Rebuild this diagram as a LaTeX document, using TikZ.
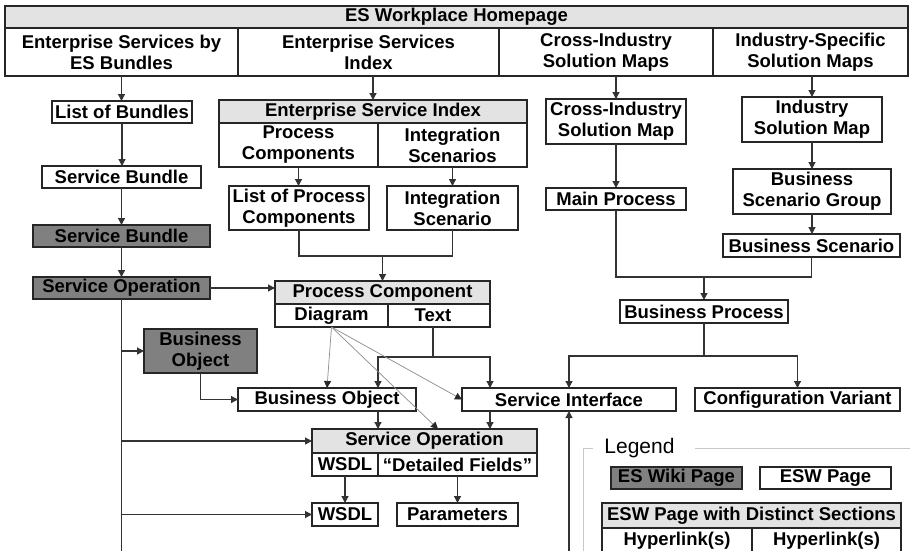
\documentclass[tikz,border=0pt]{standalone}
\usepackage{fontspec}
\setmainfont{Liberation Sans}
\usetikzlibrary{arrows.meta,calc}
\definecolor{dgray}{HTML}{808080}
\definecolor{lgray}{HTML}{E3E3E3}
\definecolor{edge}{HTML}{262626}
\definecolor{wirec}{HTML}{333333}
\definecolor{faint}{HTML}{8C8C8C}
\definecolor{framec}{HTML}{C8C8C8}
\newcommand\mybox[7]{\node[#1, minimum width={(#5-#3)*1pt}, minimum height={(#6-#4)*1pt}] (#2) at ({(#3+#5)/2},{(#4+#6)/2}) {#7};}
\begin{document}
\begin{tikzpicture}[x=1pt,y=-1pt,
  box/.style={draw=edge, line width=1.1pt, fill=white, inner sep=0pt, outer sep=0pt, align=center, font=\bfseries\fontsize{18.5}{21}\selectfont},
  wiki/.style={box, fill=dgray},
  shade/.style={box, fill=lgray},
  wire/.style={draw=wirec, line width=1.2pt},
  conn/.style={wire, -{Triangle[length=7pt,width=7pt]}},
  faintconn/.style={draw=faint, line width=0.7pt, -{Triangle[length=7pt,width=7pt,color=black!85]}},
]
\useasboundingbox (0,0) rectangle (910,550);
\clip (0,0) rectangle (910,550);
\fill[white] (0,0) rectangle (910,550);

% header
\mybox{shade}{top}{5}{6}{908}{28}{ES Workplace Homepage}
\mybox{box}{hA}{5}{28}{238}{76}{Enterprise Services by\\ES Bundles}
\mybox{box}{hB}{238}{28}{499}{76}{Enterprise Services\\Index}
\mybox{box}{hC}{499}{28}{713}{76}{Cross-Industry\\Solution Maps}
\mybox{box}{hD}{713}{28}{908}{76}{Industry-Specific\\Solution Maps}

% left column
\mybox{box}{lob}{52}{101}{192}{123}{List of Bundles}
\mybox{box}{sbA}{42}{166}{201}{188}{Service Bundle}
\mybox{wiki}{sbB}{33}{225}{210}{247}{Service Bundle}
\mybox{wiki}{soA}{33}{277}{210}{299}{Service Operation}

% enterprise service index
\mybox{shade}{esi}{219}{100}{527}{123}{Enterprise Service Index}
\mybox{box}{esiP}{219}{123}{378}{167}{Process\\Components}
\mybox{box}{esiI}{378}{123}{527}{167}{Integration\\Scenarios}
\mybox{box}{lpc}{229}{186}{369}{230}{List of Process\\Components}
\mybox{box}{isc}{387}{186}{518}{230}{Integration\\Scenario}

% process component
\mybox{shade}{pc}{275}{281}{490}{304}{Process Component}
\mybox{box}{pcD}{275}{304}{388}{327}{Diagram}
\mybox{box}{pcT}{388}{304}{490}{327}{Text\hspace*{12pt}}

% right side
\mybox{box}{cism}{546}{99}{686}{144}{Cross-Industry\\Solution Map}
\mybox{box}{mp}{546}{188}{686}{210}{Main Process}
\mybox{box}{ism}{742}{97}{882}{142}{Industry\\Solution Map}
\mybox{box}{bsg}{733}{169}{891}{214}{Business\\Scenario Group}
\mybox{box}{bs}{723}{234}{900}{257}{Business Scenario}
\mybox{box}{bp}{620}{300}{788}{323}{Business Process}
\mybox{box}{si}{462}{388}{676}{411}{Service Interface}
\mybox{box}{cv}{695}{388}{900}{411}{Configuration Variant}

% middle
\mybox{wiki}{boA}{144}{329}{257}{373}{Business\\Object}
\mybox{box}{boB}{238}{388}{416}{411}{Business Object}
\mybox{shade}{so}{312}{429}{537}{453}{Service Operation}
\mybox{box}{soW}{312}{453}{378}{476}{WSDL}
\mybox{box}{soD}{378}{453}{537}{476}{“Detailed Fields”}
\mybox{box}{wsdl}{312}{503}{378}{526}{WSDL}
\mybox{box}{par}{397}{503}{518}{526}{Parameters}

% legend
\node[font=\fontsize{21}{25}\selectfont, inner sep=0pt] (lg) at (639.5,448) {Legend};
\draw[draw=framec, line width=1pt] (593,448) -- (583,448) -- (583,556);
\draw[draw=framec, line width=1pt] (695,448) -- (916,448);
\mybox{wiki}{lgA}{611}{467}{742}{489}{ES Wiki Page}
\mybox{box}{lgB}{760}{467}{891}{489}{ESW Page}
\mybox{shade}{lgC}{602}{503}{901}{528}{ESW Page with Distinct Sections}
\mybox{box}{lgD}{602}{528}{752}{553}{Hyperlink(s)}
\mybox{box}{lgE}{752}{528}{901}{553}{Hyperlink(s)}

% connectors
\draw[conn] (hA.south) -- (hA.south |- lob.north);
\draw[conn] (lob.south) -- (lob.south |- sbA.north);
\draw[conn] (sbA.south) -- (sbA.south |- sbB.north);
\draw[conn] (sbB.south) -- (sbB.south |- soA.north);
\draw[conn] (esi.north |- hB.south) -- (esi.north);
\draw[conn] (cism.north |- hC.south) -- (cism.north);
\draw[conn] (ism.north |- hD.south) -- (ism.north);
\draw[conn] (esiP.south) -- (esiP.south |- lpc.north);
\draw[conn] (esiI.south) -- (esiI.south |- isc.north);
\path (lpc.south) ++(0,26) coordinate (jA);
\draw[wire] (lpc.south) -- (jA) -| (isc.south);
\draw[conn] (jA -| pc.north) -- (pc.north);
\draw[conn] (soA.east) -- (soA.east -| pc.west);
\coordinate (endL) at (121.5,556);
\draw[wire] (soA.south) -- (endL);
\draw[conn] (soA.south |- boA.west) -- (boA.west);
\draw[conn] (soA.south |- so.west) -- (so.west);
\draw[conn] (soA.south |- wsdl.west) -- (wsdl.west);
\draw[conn] (boA.south) |- (boB.west);
\path (pcT.south) ++(-6,30) coordinate (jT);
\draw[wire] ($(pcT.south)+(-6,0)$) -- (jT);
\draw[conn] (jT) -| (soW.east |- boB.north);
\draw[conn] (jT) -| (pc.east |- si.north);
\draw[conn] (soW.east |- boB.south) -- (soW.east |- so.north);
\draw[conn] (pc.east |- si.south) -- (pc.east |- so.north);
\draw[conn] (soW.south) -- (soW.south |- wsdl.north);
\draw[conn] (soD.south) -- (soD.south |- par.north);
\coordinate (endSI) at (569,556);
\draw[conn] (endSI) -- (endSI |- si.south);
\draw[conn] (cism.south) -- (cism.south |- mp.north);
\draw[conn] (ism.south) -- (ism.south |- bsg.north);
\draw[conn] (bsg.south) -- (bsg.south |- bs.north);
\path (mp.south) ++(0,67) coordinate (jM);
\draw[wire] (mp.south) -- (jM) -| (bs.south);
\draw[conn] (jM -| bp.north) -- (bp.north);
\path (bp.south) ++(0,33) coordinate (jB);
\draw[wire] (bp.south) -- (jB);
\draw[conn] (jB) -| (si.north);
\draw[conn] (jB) -| (cv.north);
\draw[faintconn] (pcD.south) -- (boB.north);
\draw[faintconn] (pcD.south) -- (si.west);
\draw[faintconn] (pcD.south) -- ($(so.north west)+(126,0)$);
\end{tikzpicture}
\end{document}
